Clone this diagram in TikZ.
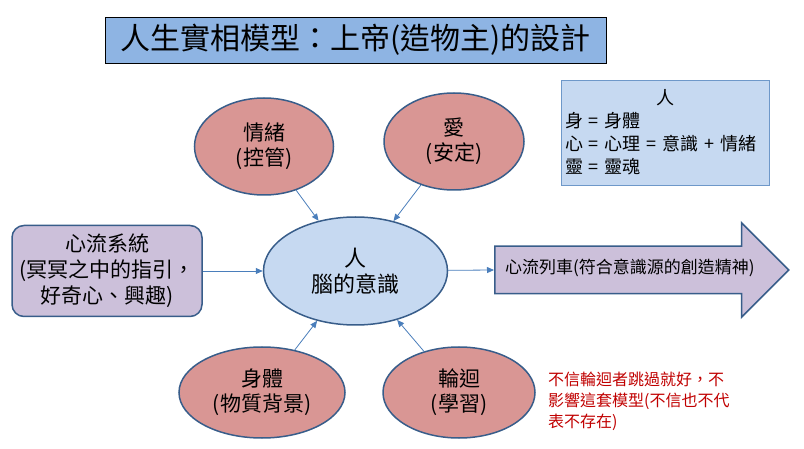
\documentclass[tikz,border=0pt]{standalone}
\usepackage{fontspec}
\setmainfont{Noto Sans CJK TC}
\usepackage{xcolor}
\usetikzlibrary{shapes.geometric, shapes.arrows, arrows.meta}
\definecolor{title_blue}{HTML}{8EB4E3}
\definecolor{light_blue}{HTML}{C6D9F1}
\definecolor{rose}{HTML}{D99694}
\definecolor{lavender}{HTML}{CCC0DA}
\definecolor{edge_blue}{HTML}{385D8A}
\definecolor{link_blue}{HTML}{4A7EBB}
\definecolor{note_red}{HTML}{C00000}
\tikzset{
  factor/.style={ellipse, draw=edge_blue, line width=1.5pt, fill=rose, inner sep=0pt,
    align=center, font=\fontsize{21}{25}\selectfont},
  link/.style={draw=link_blue, line width=0.8pt, -{Triangle[length=7pt,width=6pt]}}
}

\begin{document}
\begin{tikzpicture}[x=1pt, y=-1pt]
    \useasboundingbox (0,0) rectangle (804,449);

    % title
    \node[draw=black, line width=0.8pt, fill=title_blue, minimum width=501pt, minimum height=46pt,
      font=\fontsize{30}{34}\selectfont] (title) at (355.5,40) {人生實相模型：上帝(造物主)的設計};

    % legend box
    \node[draw=link_blue!80, line width=0.6pt, fill=light_blue, text width=201pt, minimum height=105pt,
      align=left, font=\fontsize{18}{23}\selectfont] (legend) at (665.5,132.5)
      {\hfill 人\hfill\null\\身 = 身體\\心 = 心理 = 意識 + 情緒\\靈 = 靈魂};

    % the mind in the middle
    \node[ellipse, draw=edge_blue, line width=1.5pt, fill=light_blue, minimum width=184pt, minimum height=108pt,
      inner sep=0pt, align=center, font=\fontsize{22}{26}\selectfont] (mind) at (355.5,271) {人\\腦的意識};

    % the four factors
    \node[factor, minimum width=139pt, minimum height=97pt] (emotion) at (264,146.5) {情緒\\(控管)};
    \node[factor, minimum width=140pt, minimum height=97pt] (love) at (454,141.5) {愛\\(安定)};
    \node[factor, minimum width=166pt, minimum height=91pt] (body) at (262,392.5) {身體\\(物質背景)};
    \node[factor, minimum width=152pt, minimum height=91pt] (rebirth) at (459,392.5) {輪迴\\(學習)};

    % flow system on the left
    \node[rounded corners=12pt, draw=edge_blue, line width=1.5pt, fill=lavender, minimum width=190pt,
      minimum height=91pt, align=center, font=\fontsize{21}{26}\selectfont] (flow) at (107,271)
      {心流系統\\(冥冥之中的指引，\\好奇心、興趣)};

    % flow train on the right
    \node[single arrow, draw=edge_blue, line width=1.5pt, fill=lavender, minimum height=294pt,
      single arrow head extend=23.5pt, text height=12pt, text depth=4pt, inner ysep=15pt, inner xsep=0pt,
      font=\fontsize{17}{20}\selectfont, anchor=tail] (train) at (494,270)
      {心流列車(符合意識源的創造精神)};

    % note
    \node[text=note_red, align=left, anchor=north west, inner sep=0pt,
      font=\fontsize{16}{21}\selectfont] (note) at (548,372)
      {不信輪迴者跳過就好，不\\影響這套模型(不信也不代\\表不存在)};

    % connectors
    \draw[link] (emotion) -- (mind);
    \draw[link] (love) -- (mind);
    \draw[link] (body) -- (mind);
    \draw[link] (rebirth) -- (mind);
    \draw[link] (flow) -- (mind);
    \draw[link] (mind) -- (train.tail);
\end{tikzpicture}
\end{document}
